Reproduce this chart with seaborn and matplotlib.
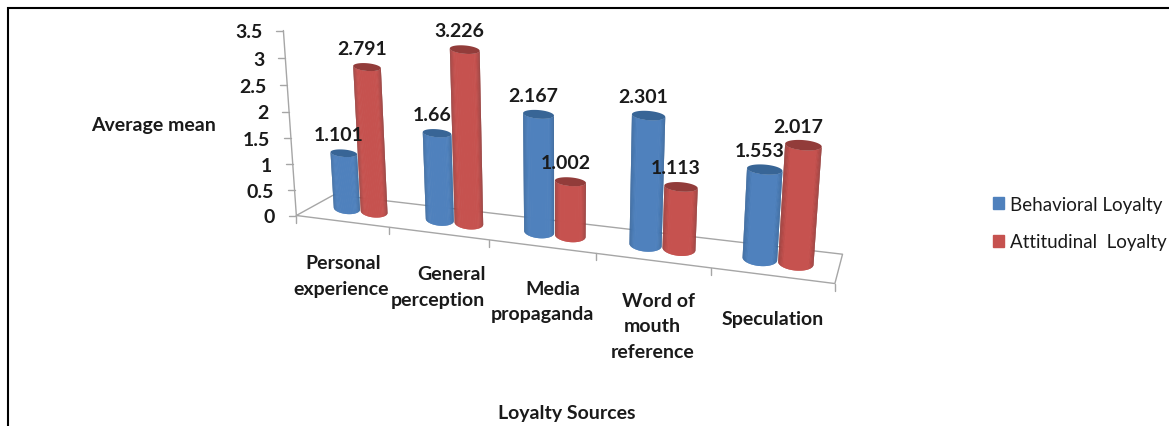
import numpy as np
import matplotlib
matplotlib.use("Agg")
import matplotlib.pyplot as plt
from matplotlib.patches import Patch, Polygon
import seaborn as sns

# Data
categories = [["Personal", "experience"], ["General", "perception"], ["Media", "propaganda"],
              ["Word of", "mouth", "reference"], ["Speculation"]]
behavioral = [1.101, 1.66, 2.167, 2.301, 1.553]
attitudinal = [2.791, 3.226, 1.002, 1.113, 2.017]
series_names = ["Behavioral Loyalty", "Attitudinal  Loyalty"]
y_ticks = [0, 0.5, 1, 1.5, 2, 2.5, 3, 3.5]
y_labels = ["0", "0.5", "1", "1.5", "2", "2.5", "3", "3.5"]

sns.set_theme(style="white")
plt.rcParams["font.family"] = ["Lato", "DejaVu Sans"]

BLUE = "#4F81BD"
RED = "#C6524F"
BLUE_DARK = "#2F5E93"
RED_DARK = "#8A3432"
BLUE_CAP = "#386596"
RED_CAP = "#923C3A"
TEXT = "#1a1a1a"
FS = 14

# camera fit: chart units (category, depth, value) -> picture pixels
frame_3d = [(0, 0, 0), (1, 0, 0), (2, 0, 0), (3, 0, 0), (4, 0, 0), (5, 0, 0),
            (0, 1, 0), (5, 1, 0), (0, 0, 1), (0, 0, 2), (0, 0, 3), (0, 0, 3.5),
            (4.65, .5, 2.017), (3.35, .5, 2.301), (1.65, .5, 3.226), (.35, .5, 1.101)]
frame_px = [(297, 216), (390, 228), (488, 241), (595, 255), (711, 270), (835, 285),
            (333, 197), (843, 253), (293, 165), (289, 112), (285, 59), (283, 31),
            (803, 146), (649, 117), (465, 52), (345, 154)]

rows, rhs = [], []
for (a, b, c), (px, py) in zip(frame_3d, frame_px):
    rows.append([a, b, c, 1, 0, 0, 0, 0, -px * a, -px * b, -px * c])
    rows.append([0, 0, 0, 0, a, b, c, 1, -py * a, -py * b, -py * c])
    rhs += [px, py]
cam = np.linalg.lstsq(np.array(rows, float), np.array(rhs, float), rcond=None)[0]
cam = np.append(cam, 1.0).reshape(3, 4)


def project(u, v, z):
    u, v, z = np.broadcast_arrays(u, v, z)
    pts = cam @ np.vstack([u.ravel(), v.ravel(), z.ravel(), np.ones(u.size)])
    return pts[0] / pts[2], pts[1] / pts[2]


def ring(u, z, t, ratio):
    # cross-section seen from the front: flat ellipse round the projected centre
    r_u = 0.145
    cx, cy = project(u, 0.5, z)
    ex, _ = project(u + r_u, 0.5, z)
    w = ex[0] - cx[0]
    x = cx[0] + w * np.cos(t)
    y = cy[0] + ratio * w * np.sin(t) + 0.08 * w * np.cos(t)
    return x, y


def cylinder(ax, u, value, mid, dark, cap):
    t = np.linspace(0, 2 * np.pi, 121)
    front = np.linspace(np.pi, 0, 61)
    shades = sns.blend_palette([dark, mid, mid, mid, dark], n_colors=60)
    bx, by = ring(u, 0, front, 0.42)
    tx, ty = ring(u, value, front, 0.28)
    # strips overlap the next one so no seams show
    for k in range(60):
        j = min(k + 2, 60)
        quad = list(zip(bx[k:j + 1], by[k:j + 1])) + list(zip(tx[k:j + 1][::-1], ty[k:j + 1][::-1]))
        ax.add_patch(Polygon(quad, closed=True, fc=shades[k], ec="none", lw=0, zorder=3))
    cx, cy = ring(u, value, t, 0.28)
    ax.fill(cx, cy, color=cap, lw=0, zorder=3)


fig = plt.figure(figsize=(11.69, 4.27), dpi=100)
ax = fig.add_axes([0, 0, 1, 1])
ax.set_xlim(0, 1169)
ax.set_ylim(427, 0)
ax.axis("off")

# page frame
ax.plot([8, 8, 1169], [427, 9, 9], color="black", lw=1.5, solid_joinstyle="miter")

# floor
n = len(categories)
grey = "#A6A6A6"
xs, ys = project([0, n, n, 0, 0], [0, 0, 1, 1, 0], 0)
ax.plot(xs, ys, color=grey, lw=1, zorder=1)
for i in range(n + 1):
    x0, y0 = project(i, 0, 0)
    ax.plot([x0[0], x0[0]], [y0[0], y0[0] + 7], color=grey, lw=1, zorder=1)

# value axis
xs, ys = project(0, 0, np.array(y_ticks))
ax.plot(xs, ys, color=grey, lw=1, zorder=1)
for x0, y0, lab in zip(xs, ys, y_labels):
    ax.plot([x0 - 7, x0], [y0, y0], color=grey, lw=1, zorder=1)
    ax.text(x0 - 21, y0 + 1, lab, ha="right", va="center", fontsize=FS,
            fontweight="bold", color=TEXT)

# cylinders and their value labels
for i in range(n):
    for u, value, mid, dark, cap in [(i + 0.35, behavioral[i], BLUE, BLUE_DARK, BLUE_CAP),
                                     (i + 0.65, attitudinal[i], RED, RED_DARK, RED_CAP)]:
        cylinder(ax, u, value, mid, dark, cap)
for i in range(n):
    for u, value in [(i + 0.35, behavioral[i]), (i + 0.65, attitudinal[i])]:
        x0, y0 = project(u, 0.5, value)
        ax.text(x0[0] - 5, y0[0] - 19, f"{value:g}", ha="center", va="center",
                fontsize=FS, fontweight="bold", color=TEXT, zorder=5)

# category labels, line by line
label_x = [[343, 341], [451, 438], [553, 542], [659, 652, 653], [773]]
label_y = [[264, 290], [275, 301], [290, 315], [302, 327, 353], [320]]
for lines, xl, yl in zip(categories, label_x, label_y):
    for lab, x0, y0 in zip(lines, xl, yl):
        ax.text(x0, y0, lab, ha="center", va="center", fontsize=FS, fontweight="bold", color=TEXT)

ax.text(154, 126, "Average mean", ha="center", va="center", fontsize=FS,
        fontweight="bold", color=TEXT)
ax.text(567, 414, "Loyalty Sources", ha="center", va="center", fontsize=FS,
        fontweight="bold", color=TEXT)

handles = [Patch(color=BLUE, label=series_names[0]), Patch(color=RED, label=series_names[1])]
ax.legend(handles=handles, loc="center left", bbox_to_anchor=(993, 224),
          bbox_transform=ax.transData, frameon=False, fontsize=13.5, borderpad=0,
          borderaxespad=0, handlelength=0.6, handleheight=0.6, handletextpad=0.28,
          labelspacing=1.1, labelcolor=TEXT)

fig.savefig("out.png", dpi=100)
